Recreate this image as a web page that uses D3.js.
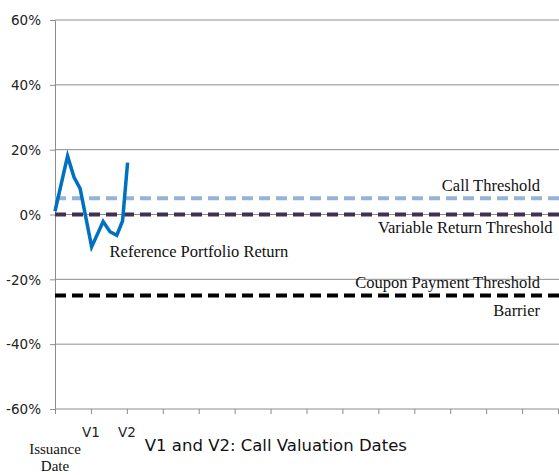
<!DOCTYPE html>
<html>
<head>
<meta charset="utf-8">
<script src="https://cdn.jsdelivr.net/npm/d3@7"></script>
<style>
  body { margin: 0; background: #fff; }
  svg { display: block; }
  .tick-label { font-family: "DejaVu Sans", sans-serif; font-size: 13.5px; fill: #222; }
  .note { font-family: "Liberation Serif", "Times New Roman", serif; font-size: 16.5px; fill: #111; }
</style>
</head>
<body>
<svg width="559" height="475"></svg>
<script>
// reference portfolio return path (x in valuation periods, y in %)
let portfolioX = [0, 0.35, 0.53, 0.7, 1.02, 1.34, 1.53, 1.72, 1.88, 2.02]
let portfolioY = [1, 18, 11.5, 8, -10, -2.2, -5.3, -6.4, -2, 16]

// threshold levels in %
let thresholdNames = ["Call Threshold", "Variable Return Threshold", "Barrier"]
let thresholdValues = [5, 0, -25]
let thresholdColors = ["#95b3d7", "#403152", "#000000"]

let yTicks = [-60, -40, -20, 0, 20, 40, 60]
let xTickCount = 14
let xLabels = [{ x: 1, text: "V1" }, { x: 2, text: "V2" }]

let svg = d3.select("svg")

const margin = { top: 20, right: 1, bottom: 66, left: 55 },
    width = 559 - margin.left - margin.right,
    height = 475 - margin.top - margin.bottom

let g = svg.append("g")
    .attr("transform", `translate(${margin.left},${margin.top})`)

let xScale = d3.scaleLinear().domain([0, xTickCount]).range([0, width])
let yScale = d3.scaleLinear().domain([-60, 60]).range([height, 0])

// horizontal gridlines
g.selectAll(".grid")
    .data(yTicks.filter(d => d != -60))
    .join("line")
    .attr("class", "grid")
    .attr("x1", 0)
    .attr("x2", width + 2)
    .attr("y1", d => yScale(d))
    .attr("y2", d => yScale(d))
    .attr("stroke", "#8c8c8c")
    .attr("stroke-width", 1)

// y axis
let yAxis = g.append("g")
    .call(d3.axisLeft(yScale).tickValues(yTicks).tickSize(5).tickFormat(d => d + "%"))
yAxis.attr("font-family", null).attr("font-size", null)
yAxis.select(".domain").attr("stroke", "#8c8c8c")
yAxis.selectAll(".tick line").attr("stroke", "#8c8c8c")
yAxis.selectAll("text")
    .attr("class", "tick-label")
    .attr("x", -14)
    .attr("dy", "0.35em")

// x axis
let xAxis = g.append("g")
    .attr("transform", `translate(0, ${height})`)
    .call(d3.axisBottom(xScale).ticks(xTickCount).tickSize(5).tickSizeOuter(0).tickFormat(""))
xAxis.select(".domain").attr("stroke", "#8c8c8c").attr("d", `M0,0H${width + 2}`)
xAxis.selectAll(".tick line").attr("stroke", "#8c8c8c")

g.selectAll(".vlabel")
    .data(xLabels)
    .join("text")
    .attr("class", "tick-label vlabel")
    .attr("x", d => xScale(d.x))
    .attr("y", height + 28)
    .attr("text-anchor", "middle")
    .text(d => d.text)

// issuance date label, two lines
g.selectAll(".issue")
    .data(["Issuance", "Date"])
    .join("text")
    .attr("class", "note issue")
    .style("font-size", "15px")
    .attr("text-anchor", "middle")
    .attr("x", xScale(0))
    .attr("y", (d, i) => height + 45 + i * 17)
    .text(d => d)

g.append("text")
    .attr("class", "tick-label")
    .style("font-size", "16.5px")
    .style("fill", "#111")
    .attr("x", xScale(2.5))
    .attr("y", height + 42)
    .text("V1 and V2: Call Valuation Dates")

// threshold dashed lines
g.selectAll(".threshold")
    .data(thresholdValues)
    .join("line")
    .attr("class", "threshold")
    .attr("x1", 0)
    .attr("x2", width + 2)
    .attr("y1", d => yScale(d))
    .attr("y2", d => yScale(d))
    .attr("stroke", (d, i) => thresholdColors[i])
    .attr("stroke-width", 4)
    .attr("stroke-dasharray", "11,6")

// reference portfolio line
let line = d3.line()
    .x(d => xScale(d[0]))
    .y(d => yScale(d[1]))

g.append("path")
    .datum(portfolioX.map((x, i) => [x, portfolioY[i]]))
    .attr("d", line)
    .attr("fill", "none")
    .attr("stroke", "#0070c0")
    .attr("stroke-width", 3.5)
    .attr("stroke-linejoin", "miter")

// annotations
let notes = [
    { text: "Call Threshold", x: 13.5, y: 5, dy: -7, anchor: "end" },
    { text: "Variable Return Threshold", x: 13.85, y: 0, dy: 18, anchor: "end" },
    { text: "Coupon Payment Threshold", x: 13.5, y: -20, dy: 9, anchor: "end" },
    { text: "Barrier", x: 13.5, y: -25, dy: 20, anchor: "end" },
    { text: "Reference Portfolio Return", x: 1.52, y: -10, dy: 10, anchor: "start" }
]

g.selectAll(".note-label")
    .data(notes)
    .join("text")
    .attr("class", "note note-label")
    .attr("x", d => xScale(d.x))
    .attr("y", d => yScale(d.y) + d.dy)
    .attr("text-anchor", d => d.anchor)
    .text(d => d.text)
</script>
</body>
</html>
